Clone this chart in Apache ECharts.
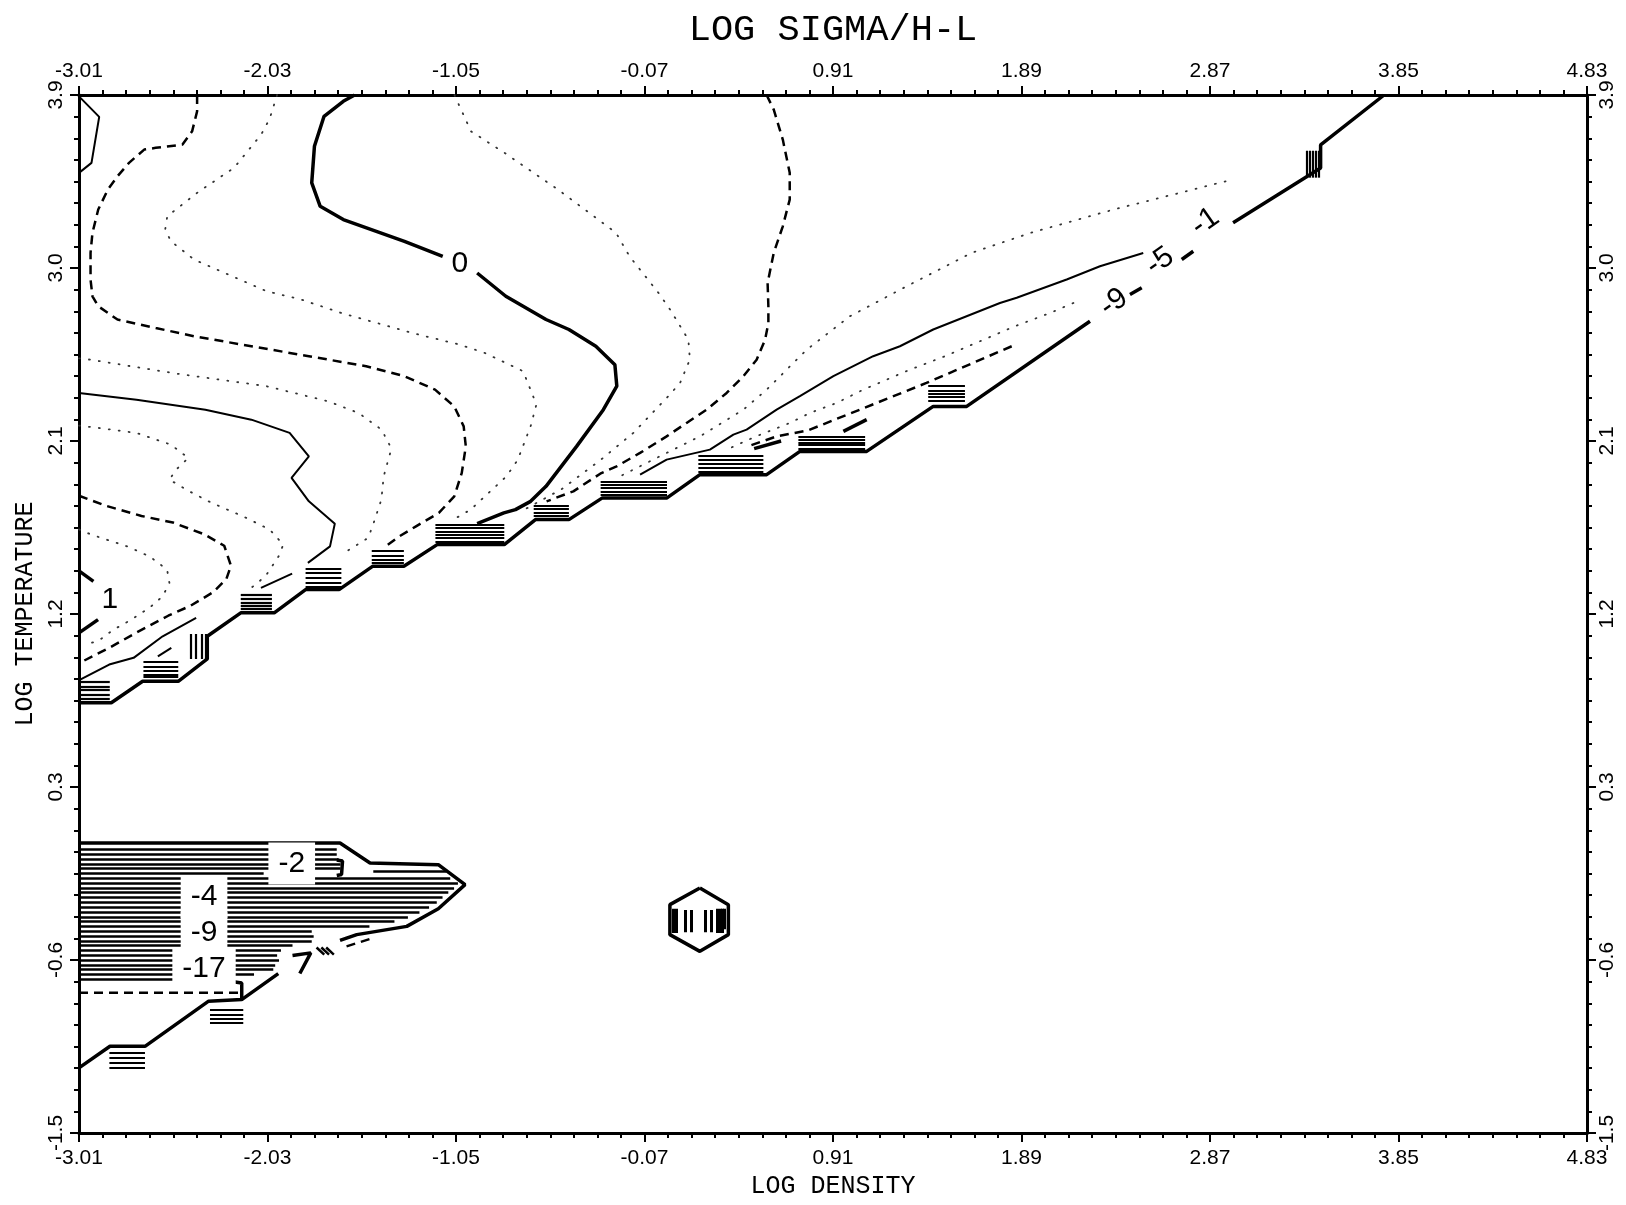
<!DOCTYPE html>
<html>
<head>
<meta charset="utf-8">
<title>LOG SIGMA/H-L</title>
<script src="https://cdn.jsdelivr.net/npm/echarts@6/dist/echarts.min.js"></script>
<style>
  html, body { margin: 0; padding: 0; background: #fff; }
  #chart { width: 1626px; height: 1205px; }
</style>
</head>
<body>
<div id="chart"></div>
<script>
// Axis ranges: log density (x) and log temperature (y)
const X_MIN = -3.01, X_MAX = 4.83, X_STEP = 0.98;
const Y_MIN = -1.5,  Y_MAX = 3.9,  Y_STEP = 0.9;

// ---- contour polylines, points are [log density, log temperature] ----
// level 0 (heavy), split where its label sits
const level0Upper = [[-1.577,3.9],[-1.636,3.867],[-1.736,3.789],[-1.786,3.633],[-1.8,3.443],[-1.756,3.321],[-1.636,3.252],[-1.318,3.139],[-1.119,3.061]];
const level0Lower = [[-0.94,2.974],[-0.791,2.853],[-0.582,2.732],[-0.463,2.68],[-0.323,2.593],[-0.224,2.497],[-0.214,2.385],[-0.284,2.263],[-0.423,2.072],[-0.582,1.864],[-0.662,1.786],[-0.741,1.743],[-0.801,1.726],[-0.94,1.67]];

// level 1 near the left edge, split around its label
const level1Upper = [[-3.01,1.424],[-2.935,1.37]];
const level1Lower = [[-2.911,1.171],[-3.01,1.102]];

// thin solid contours
const cornerLoop = [[-3.01,3.893],[-2.905,3.786],[-2.945,3.547],[-3.01,3.495]];
const solidWest  = [[-3.01,2.35],[-2.711,2.315],[-2.353,2.263],[-2.114,2.211],[-1.915,2.142],[-1.815,2.02],[-1.905,1.908],[-1.815,1.786],[-1.68,1.67],[-1.705,1.552],[-1.82,1.466]];
const solidLowLeft = [[-3.004,0.859],[-2.853,0.937],[-2.726,0.972],[-2.575,1.084],[-2.401,1.18]];
const solidShortA = [[-2.064,1.336],[-1.902,1.41]];
const solidShortB = [[-2.6,0.98],[-2.53,1.024]];
const solidRidge = [[2.523,3.078],[2.298,3.009],[2.125,2.94],[1.865,2.845],[1.778,2.818],[1.431,2.68],[1.258,2.593],[1.119,2.541],[0.912,2.437],[0.738,2.333],[0.617,2.263],[0.461,2.159],[0.392,2.133],[0.27,2.055],[0.045,2.003],[-0.093,1.925]];

// dashed contours
const dashedWest = [[-2.396,3.9],[-2.396,3.815],[-2.422,3.711],[-2.472,3.642],[-2.611,3.625],[-2.671,3.616],[-2.75,3.547],[-2.81,3.477],[-2.86,3.408],[-2.91,3.304],[-2.94,3.183],[-2.95,3.079],[-2.95,2.94],[-2.94,2.853],[-2.91,2.801],[-2.81,2.732],[-2.611,2.688],[-2.412,2.645],[-2.114,2.593],[-1.815,2.541],[-1.517,2.489],[-1.318,2.437],[-1.159,2.367],[-1.059,2.28],[-1.01,2.176],[-0.999,2.072],[-1.02,1.934],[-1.059,1.812],[-1.139,1.726],[-1.258,1.656],[-1.345,1.604],[-1.415,1.552]];
const dashedLoop = [[-3.01,1.815],[-2.87,1.763],[-2.685,1.71],[-2.522,1.676],[-2.36,1.615],[-2.255,1.555],[-2.22,1.451],[-2.244,1.382],[-2.313,1.313],[-2.43,1.243],[-2.546,1.191],[-2.708,1.105],[-2.847,1.027],[-3.0,0.949]];
const dashedEast = [[0.565,3.9],[0.602,3.824],[0.649,3.668],[0.685,3.495],[0.685,3.356],[0.649,3.217],[0.602,3.079],[0.57,2.922],[0.574,2.801],[0.574,2.714],[0.557,2.627],[0.513,2.523],[0.444,2.437],[0.357,2.35],[0.253,2.263],[0.149,2.194],[0.045,2.124],[-0.093,2.038],[-0.215,1.968],[-0.3,1.93],[-0.44,1.838],[-0.579,1.786]];
const dashedRidge = [[1.839,2.593],[1.396,2.402],[0.782,2.156],[0.617,2.124],[0.47,2.073]];
const dashedFloor = [[-3.01,-0.771],[-2.156,-0.771]];
const dashedTail = [[-1.619,-0.529],[-1.48,-0.485]];

// dotted contours
const dottedA = [[-1.98,3.9],[-2.019,3.776],[-2.063,3.694],[-2.204,3.521],[-2.392,3.394],[-2.551,3.269],[-2.562,3.2],[-2.532,3.139],[-2.412,3.044],[-2.034,2.879],[-1.855,2.836],[-1.646,2.766],[-1.278,2.662],[-1.03,2.601],[-0.9,2.558],[-0.701,2.463],[-0.632,2.29],[-0.662,2.177],[-0.73,2.0],[-0.788,1.916],[-0.974,1.743],[-1.066,1.69]];
const dottedB = [[-1.058,3.9],[-0.972,3.711],[-0.798,3.599],[-0.52,3.408],[-0.218,3.183],[-0.148,3.061],[0.003,2.87],[0.063,2.784],[0.158,2.627],[0.166,2.524],[0.115,2.402],[0.054,2.333],[-0.128,2.142],[-0.3,2.0],[-0.5,1.85],[-0.7,1.74]];
const dottedC = [[2.951,3.451],[2.368,3.304],[1.938,3.183],[1.631,3.079],[1.293,2.905],[0.998,2.749],[0.773,2.575],[0.565,2.367],[0.444,2.263],[0.218,2.124],[0.045,2.038],[-0.2,1.915]];
const dottedD = [[2.16,2.818],[2.038,2.766],[1.856,2.697],[1.735,2.645],[1.492,2.541],[1.31,2.471],[1.067,2.367],[0.929,2.298],[0.79,2.246],[0.686,2.194],[0.5,2.12],[0.357,2.055]];
const dottedE = [[-3.01,2.53],[-2.95,2.523],[-2.5,2.45],[-2.034,2.385],[-1.716,2.307],[-1.557,2.246],[-1.437,2.159],[-1.392,2.073],[-1.392,2.038],[-1.426,1.916],[-1.438,1.795],[-1.484,1.656],[-1.507,1.596],[-1.646,1.509]];
const dottedF = [[-3.01,2.18],[-2.91,2.168],[-2.711,2.142],[-2.532,2.081],[-2.442,2.012],[-2.505,1.951],[-2.54,1.899],[-2.436,1.838],[-2.32,1.778],[-2.157,1.708],[-2.018,1.639],[-1.948,1.561],[-1.972,1.5],[-2.041,1.396],[-2.134,1.32]];
const dottedG = [[-3.01,1.64],[-2.946,1.613],[-2.76,1.552],[-2.644,1.5],[-2.552,1.431],[-2.54,1.362],[-2.575,1.292],[-2.644,1.232],[-2.737,1.171],[-2.83,1.119],[-2.9,1.067],[-2.97,1.04]];

// heavy boundary (stair-stepped edge of the computed region)
const edgeUpper = [[-3.01,0.738],[-2.842,0.738],[-2.679,0.85],[-2.494,0.85],[-2.343,0.966],[-2.343,1.084],[-2.169,1.206],[-1.995,1.206],[-1.832,1.327],[-1.658,1.327],[-1.484,1.448],[-1.321,1.448],[-1.148,1.561],[-0.799,1.561],[-0.637,1.691],[-0.463,1.691],[-0.289,1.804],[0.047,1.804],[0.218,1.925],[0.565,1.925],[0.738,2.046],[1.085,2.046],[1.431,2.28],[1.605,2.28],[2.246,2.723]];
const edgeDashA = [[2.454,2.862],[2.515,2.897]];
const edgeDashB = [[2.723,3.044],[2.783,3.087]];
const edgeTop = [[2.99,3.235],[3.445,3.52],[3.445,3.64],[3.775,3.9]];
const edgeBits = [[[0.964,2.15],[1.085,2.211],[1.172,2.237]], [[0.5,2.06],[0.64,2.1]]];

// low-temperature block
const blockOutline = [[-3.01,0.009],[-1.653,0.009],[-1.497,-0.095],[-1.142,-0.104],[-1.003,-0.208],[-1.142,-0.333],[-1.306,-0.425],[-1.566,-0.468],[-1.653,-0.498]];
const blockBase = [[-1.974,-0.671],[-2.164,-0.806],[-2.338,-0.815],[-2.667,-1.049],[-2.849,-1.049],[-3.01,-1.161]];
const blockBracket = [[-2.225,-0.711],[-2.164,-0.72],[-2.164,-0.806]];
const blockHook = [[-1.67,-0.08],[-1.64,-0.085],[-1.645,-0.155],[-1.67,-0.16]];
const blockSeven = [[-1.9,-0.577],[-1.805,-0.563],[-1.862,-0.67]];
const blockChevrons = [
  [[-1.775,-0.535],[-1.735,-0.572],[-1.775,-0.615]],
  [[-1.75,-0.535],[-1.71,-0.572],[-1.75,-0.615]],
  [[-1.725,-0.535],[-1.685,-0.572],[-1.725,-0.615]]
];

// closely packed levels inside the block: [x from, x to, y]
const blockLevels = [
  [-3.01,-1.67,-0.026],[-3.01,-1.67,-0.05],[-3.01,-1.66,-0.075],[-3.01,-1.65,-0.1],
  [-3.01,-1.65,-0.125],[-3.01,-2.05,-0.15],[-1.48,-1.1,-0.14],[-3.01,-1.08,-0.175],
  [-3.01,-1.04,-0.2],[-3.01,-1.06,-0.225],[-3.01,-1.09,-0.25],[-3.01,-1.12,-0.275],
  [-3.01,-1.15,-0.3],[-3.01,-1.19,-0.325],[-3.01,-1.24,-0.35],[-3.01,-1.3,-0.375],
  [-3.01,-1.37,-0.4],[-3.01,-1.5,-0.425],[-3.01,-1.8,-0.45],[-3.01,-1.79,-0.475],
  [-3.01,-1.8,-0.5],[-3.01,-1.9,-0.525],[-3.01,-1.96,-0.55],[-3.01,-1.98,-0.575],
  [-3.01,-1.97,-0.6],[-3.01,-1.99,-0.625],[-3.01,-2.0,-0.65],[-3.01,-2.1,-0.675],
  [-3.01,-2.225,-0.7]
];

// packed levels stacked on the flat steps of the edge: [x from, x to, y]
const stepLevels = [
  [-3.01,-2.85,0.85],[-3.01,-2.85,0.824],[-3.01,-2.85,0.804],[-3.01,-2.85,0.781],[-3.01,-2.85,0.759],
  [-2.675,-2.494,0.949],[-2.675,-2.494,0.928],[-2.675,-2.494,0.907],[-2.675,-2.494,0.885],[-2.675,-2.494,0.873],
  [-2.169,-2.007,1.301],[-2.169,-2.007,1.28],[-2.169,-2.007,1.261],[-2.169,-2.007,1.244],[-2.169,-2.007,1.227],
  [-1.832,-1.646,1.435],[-1.832,-1.646,1.414],[-1.832,-1.646,1.388],[-1.832,-1.646,1.362],[-1.832,-1.646,1.344],
  [-1.488,-1.321,1.531],[-1.488,-1.321,1.504],[-1.488,-1.321,1.483],[-1.488,-1.321,1.466],
  [-1.157,-0.799,1.665],[-1.157,-0.799,1.648],[-1.157,-0.799,1.63],[-1.157,-0.799,1.613],[-1.157,-0.799,1.596],[-1.157,-0.799,1.578],
  [-0.646,-0.463,1.764],[-0.646,-0.463,1.747],[-0.646,-0.463,1.729],[-0.646,-0.463,1.712],
  [-0.298,0.047,1.89],[-0.298,0.047,1.873],[-0.298,0.047,1.855],[-0.298,0.047,1.838],[-0.298,0.047,1.821],
  [0.21,0.548,2.024],[0.21,0.548,2.003],[0.21,0.548,1.982],[0.21,0.548,1.96],[0.21,0.548,1.94],
  [0.73,1.077,2.124],[0.73,1.077,2.107],[0.73,1.077,2.093],[0.73,1.077,2.081],[0.73,1.077,2.06],
  [1.405,1.596,2.385],[1.405,1.596,2.364],[1.405,1.596,2.347],[1.405,1.596,2.33],[1.405,1.596,2.31],
  [-2.329,-2.156,-0.858],[-2.329,-2.156,-0.884],[-2.329,-2.156,-0.906],[-2.329,-2.156,-0.927],
  [-2.852,-2.667,-1.083],[-2.852,-2.667,-1.109],[-2.852,-2.667,-1.135],[-2.852,-2.667,-1.161]
];
// vertical packs: [x, y from, y to]
const riserLevels = [
  [-2.431,0.966,1.096],[-2.401,0.966,1.096],[-2.371,0.966,1.096],[-2.352,0.966,1.096],
  [3.375,3.47,3.61],[3.39,3.47,3.61],[3.405,3.47,3.61],[3.42,3.47,3.61],[3.435,3.47,3.61]
];

// isolated cell
const cellOutline = [[0.218,-0.225],[0.366,-0.312],[0.366,-0.468],[0.218,-0.555],[0.062,-0.468],[0.062,-0.312],[0.218,-0.225]];
const cellLevels = [
  [0.08,-0.334,-0.459],[0.095,-0.334,-0.459],[0.14,-0.34,-0.455],[0.172,-0.34,-0.455],
  [0.248,-0.34,-0.455],[0.277,-0.34,-0.455],[0.31,-0.334,-0.459],[0.322,-0.334,-0.459],
  [0.334,-0.334,-0.459],[0.346,-0.334,-0.44]
];

// contour level labels: [text, x, y, rotation]
const lineLabels = [
  ['0', -1.03, 3.02, 0], ['1', -2.85, 1.275, 0],
  ['-9', 2.37, 2.82, 35], ['-5', 2.61, 3.035, 35], ['-1', 2.845, 3.24, 35]
];
const boxedLabels = [
  ['-2', -1.904, -0.098], ['-4', -2.36, -0.272], ['-9', -2.36, -0.459], ['-17', -2.36, -0.645]
];

// ---- build the chart ----
const toAxis = p => [p[0] - X_MIN, p[1] - Y_MIN];
const INK = '#000';
const styles = {
  heavy:  { color: INK, width: 3.5, type: 'solid' },
  solid:  { color: INK, width: 2, type: 'solid' },
  dashed: { color: INK, width: 2.5, type: [9, 6] },
  dotted: { color: '#333', width: 1.8, type: [1, 9], cap: 'round' }
};
function path(pts, style) {
  return {
    type: 'line', data: pts.map(toAxis), symbol: 'none', smooth: false,
    silent: true, clip: true, z: 3,
    lineStyle: Object.assign({}, styles[style])
  };
}
function segments(list, width) {
  return {
    type: 'lines', coordinateSystem: 'cartesian2d', silent: true, z: 3,
    data: list.map(c => ({ coords: c })),
    lineStyle: { color: INK, width: width, opacity: 1, curveness: 0 }
  };
}
function labelSeries(list, boxed) {
  return {
    type: 'scatter', silent: true, z: 10, symbolSize: 1,
    itemStyle: { color: 'rgba(255,255,255,0)', opacity: 1 },
    data: list.map(l => ({
      value: toAxis([l[1], l[2]]),
      label: { show: true, position: 'inside', formatter: l[0], rotate: l[3] || 0,
               fontFamily: 'Liberation Sans', fontSize: 30, color: INK, opacity: 1,
               backgroundColor: '#fff', padding: boxed ? [6, 10] : [0, 3] }
    }))
  };
}

const series = [
  path(level0Upper, 'heavy'), path(level0Lower, 'heavy'),
  path(level1Upper, 'heavy'), path(level1Lower, 'heavy'),
  path(cornerLoop, 'solid'), path(solidWest, 'solid'), path(solidLowLeft, 'solid'),
  path(solidShortA, 'solid'), path(solidShortB, 'solid'), path(solidRidge, 'solid'),
  path(dashedWest, 'dashed'), path(dashedLoop, 'dashed'), path(dashedEast, 'dashed'),
  path(dashedRidge, 'dashed'), path(dashedFloor, 'dashed'), path(dashedTail, 'dashed'),
  path(dottedA, 'dotted'), path(dottedB, 'dotted'), path(dottedC, 'dotted'),
  path(dottedD, 'dotted'), path(dottedE, 'dotted'), path(dottedF, 'dotted'), path(dottedG, 'dotted'),
  path(edgeUpper, 'heavy'), path(edgeDashA, 'heavy'), path(edgeDashB, 'heavy'), path(edgeTop, 'heavy'),
  path(blockOutline, 'heavy'), path(blockBase, 'heavy'), path(blockBracket, 'heavy'),
  path(blockHook, 'heavy'), path(blockSeven, 'heavy'), path(cellOutline, 'heavy'),
  segments(edgeBits.map(s => s.map(toAxis)), 3.5),
  segments(blockChevrons.map(s => s.map(toAxis)), 2.5),
  segments(blockLevels.map(h => [toAxis([h[0], h[2]]), toAxis([h[1], h[2]])]), 2.6),
  segments(stepLevels.map(h => [toAxis([h[0], h[2]]), toAxis([h[1], h[2]])]), 2.2),
  segments(riserLevels.map(v => [toAxis([v[0], v[1]]), toAxis([v[0], v[2]])]), 2.2),
  segments(cellLevels.map(v => [toAxis([v[0], v[1]]), toAxis([v[0], v[2]])]), 3),
  labelSeries(lineLabels, false),
  labelSeries(boxedLabels, true)
];

const tickFont = { color: INK, fontFamily: 'Liberation Sans', fontSize: 21 };
const nameFont = { color: INK, fontFamily: 'Liberation Mono', fontSize: 25 };
function valueAxis(extra) {
  return Object.assign({
    type: 'value', min: 0, splitLine: { show: false },
    axisLine: { show: true, onZero: false, lineStyle: { color: INK, width: 3 } },
    axisTick: { show: true, length: 9, lineStyle: { color: INK, width: 2 } },
    minorTick: { show: true, splitNumber: 8, length: 5, lineStyle: { color: INK, width: 2 } }
  }, extra);
}
const xLabel = v => (v + X_MIN).toFixed(2);
const yLabel = v => (v + Y_MIN).toFixed(1);

const option = {
  animation: false,
  backgroundColor: '#fff',
  grid: { left: 79, top: 95, width: 1508, height: 1038 },
  xAxis: [
    valueAxis({ position: 'bottom', max: X_MAX - X_MIN, interval: X_STEP,
      axisLabel: Object.assign({ margin: 15, formatter: xLabel }, tickFont),
      name: 'LOG DENSITY', nameLocation: 'middle', nameGap: 40, nameTextStyle: nameFont }),
    valueAxis({ position: 'top', max: X_MAX - X_MIN, interval: X_STEP,
      axisLabel: Object.assign({ margin: 13, formatter: xLabel }, tickFont) })
  ],
  yAxis: [
    valueAxis({ position: 'left', max: Y_MAX - Y_MIN, interval: Y_STEP,
      axisLabel: Object.assign({ margin: 12, rotate: 90, formatter: yLabel }, tickFont),
      name: 'LOG TEMPERATURE', nameLocation: 'middle', nameGap: 36, nameRotate: 90, nameTextStyle: nameFont }),
    valueAxis({ position: 'right', max: Y_MAX - Y_MIN, interval: Y_STEP,
      axisLabel: Object.assign({ margin: 10, rotate: 90, formatter: yLabel }, tickFont) })
  ],
  graphic: [{
    type: 'text', x: 833, y: 12,
    style: { text: 'LOG SIGMA/H-L', fontFamily: 'Liberation Mono', fontSize: 37,
             fill: INK, align: 'center', verticalAlign: 'top' }
  }],
  series: series
};

const chart = echarts.init(document.getElementById('chart'), null, { renderer: 'canvas' });
chart.setOption(option);
</script>
</body>
</html>
